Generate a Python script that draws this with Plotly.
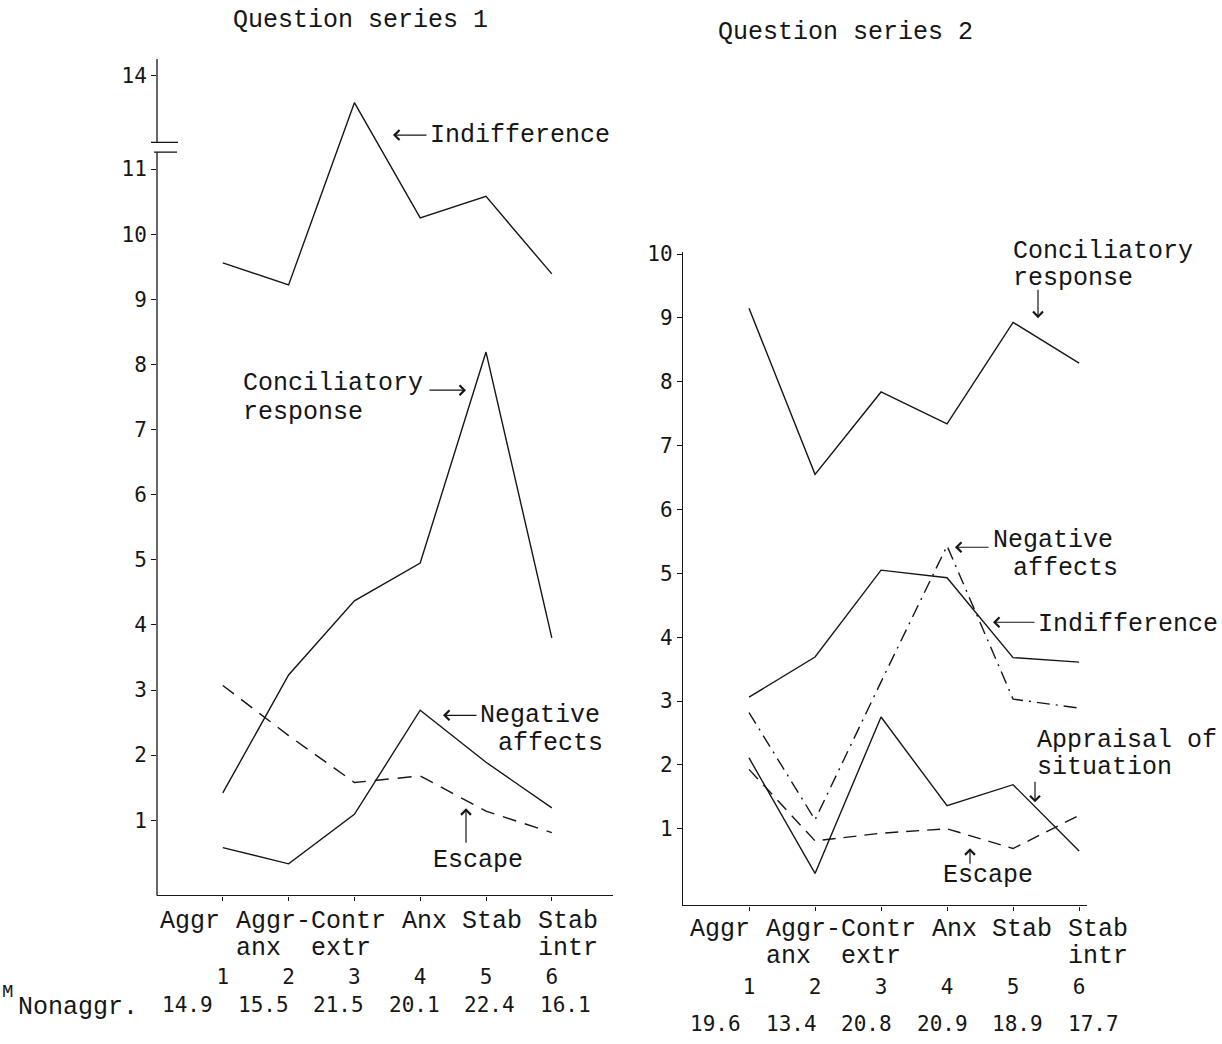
import plotly.graph_objects as go

# ---------------------------------------------------------------- data
x_positions = [1, 2, 3, 4, 5, 6]
category_top = ["Aggr", "Aggr-", "Contr", "Anx", "Stab", "Stab"]
category_bottom = ["", "anx", "extr", "", "", "intr"]
category_numbers = ["1", "2", "3", "4", "5", "6"]

nonaggr_mean_1 = [14.9, 15.5, 21.5, 20.1, 22.4, 16.1]
nonaggr_mean_2 = [19.6, 13.4, 20.8, 20.9, 18.9, 17.7]

# Question series 1
indifference_1 = [9.56, 9.22, 13.58, 10.25, 10.58, 9.39]
conciliatory_1 = [1.42, 3.23, 4.37, 4.95, 8.19, 3.80]
negative_affects_1 = [0.58, 0.33, 1.09, 2.69, 1.89, 1.19]
escape_1 = [3.07, 2.30, 1.58, 1.68, 1.14, 0.81]

# Question series 2
conciliatory_2 = [9.15, 6.55, 7.84, 7.34, 8.93, 8.29]
indifference_2 = [3.06, 3.69, 5.05, 4.93, 3.68, 3.61]
negative_affects_2 = [2.82, 1.14, 3.30, 5.43, 3.03, 2.89]
appraisal_2 = [2.11, 0.30, 2.75, 1.36, 1.69, 0.65]
escape_2 = [1.93, 0.81, 0.93, 1.00, 0.69, 1.21]

y_ticks_1 = [1, 2, 3, 4, 5, 6, 7, 8, 9, 10, 11, 14]
y_ticks_2 = [1, 2, 3, 4, 5, 6, 7, 8, 9, 10]

# ---------------------------------------------------------------- style
W, H = 1222, 1044
PAGE_TOP = 8        # vertical offset of the figure on the page
PAGE_SCALE = 0.99   # vertical page scale
INK = "#161616"
TYPE_FONT = "Liberation Mono"
NUM_FONT = "DejaVu Sans Mono"
LINE_W = 1.4
PITCH = 15.1  # typewriter character pitch in px

# The left value axis is broken between 11 and 14.
LOWER_TOP = 11.26
UPPER_BOTTOM = 12.97
BREAK_GAP = 0.15


def broken(v):
    return v if v <= LOWER_TOP else v - (UPPER_BOTTOM - LOWER_TOP) + BREAK_GAP


def fx(px):
    return px / W


def fy(py):
    return 1 - (py - PAGE_TOP) / (PAGE_SCALE * H)


# panel frames in page px: (left, right, top, bottom) and axis ranges
P1 = dict(l=157, r=613, t=57, b=893, xr=[0, 6.93], yr=[-0.154, 12.69])
P2 = dict(l=683, r=1087, t=250, b=903, xr=[0, 6.12], yr=[-0.2, 10.03])


def y_to_px(p, v):
    lo, hi = p["yr"]
    return p["b"] - (v - lo) / (hi - lo) * (p["b"] - p["t"])


fig = go.Figure()


def add_line(xaxis, yaxis, ys, dash="solid"):
    fig.add_trace(go.Scatter(
        x=x_positions, y=ys, mode="lines", xaxis=xaxis, yaxis=yaxis,
        line=dict(color=INK, width=LINE_W, dash=dash),
        hoverinfo="skip", showlegend=False))


add_line("x", "y", [broken(v) for v in indifference_1])
add_line("x", "y", conciliatory_1)
add_line("x", "y", negative_affects_1)
add_line("x", "y", escape_1, dash="14px,9px")

add_line("x2", "y2", conciliatory_2)
add_line("x2", "y2", indifference_2)
add_line("x2", "y2", negative_affects_2, dash="13px,6px,2px,6px")
add_line("x2", "y2", appraisal_2)
add_line("x2", "y2", escape_2, dash="13px,8px")

tick_font = dict(family=NUM_FONT, size=21, color=INK)


def x_axis(p, anchor):
    return dict(domain=[fx(p["l"]), fx(p["r"])], range=p["xr"], anchor=anchor,
                tickvals=x_positions, ticktext=category_numbers,
                ticks="outside", ticklen=4, tickwidth=1.2, tickcolor=INK,
                showline=True, linecolor=INK, linewidth=1.3,
                showgrid=False, zeroline=False, tickfont=tick_font,
                ticklabelstandoff=58, fixedrange=True)


def y_axis(p, anchor, vals, text, showline):
    return dict(domain=[fy(p["b"]), fy(p["t"])], range=p["yr"], anchor=anchor,
                tickvals=vals, ticktext=text, ticks="outside", ticklen=5,
                tickwidth=1.2, tickcolor=INK, showline=showline,
                linecolor=INK, linewidth=1.3, showgrid=False, zeroline=False,
                tickfont=tick_font, fixedrange=True)


fig.update_layout(
    width=W, height=H, autosize=False,
    margin=dict(l=0, r=0, t=0, b=0),
    paper_bgcolor="white", plot_bgcolor="white",
    xaxis=x_axis(P1, "y"),
    yaxis=y_axis(P1, "x", [broken(v) for v in y_ticks_1],
                 [str(v) for v in y_ticks_1], False),
    xaxis2=x_axis(P2, "y2"),
    yaxis2=y_axis(P2, "x2", y_ticks_2, [str(v) for v in y_ticks_2], True),
)

# left value axis drawn in two pieces with break marks
shapes = []
lower_px = y_to_px(P1, LOWER_TOP)
upper_px = y_to_px(P1, LOWER_TOP + BREAK_GAP)
for y0, y1 in [(P1["b"], lower_px), (upper_px, P1["t"])]:
    shapes.append(dict(type="line", xref="paper", yref="paper",
                       x0=fx(P1["l"]), x1=fx(P1["l"]), y0=fy(y0), y1=fy(y1),
                       line=dict(color=INK, width=1.3)))
for py, a, b in [(upper_px, 151, 178), (lower_px, 154, 177)]:
    shapes.append(dict(type="line", xref="paper", yref="paper",
                       x0=fx(a), x1=fx(b), y0=fy(py), y1=fy(py),
                       line=dict(color=INK, width=1.3)))
fig.update_layout(shapes=shapes)

annotations = []


def text(s, left, cy, size=25, family=TYPE_FONT):
    annotations.append(dict(text=s, xref="paper", yref="paper",
                            x=fx(left), y=fy(cy), xanchor="left",
                            yanchor="middle", showarrow=False,
                            font=dict(family=family, size=size, color=INK)))


def arrow(hx, hy, tx, ty):
    annotations.append(dict(text="", xref="paper", yref="paper",
                            x=fx(hx), y=fy(hy), ax=tx - hx, ay=ty - hy,
                            axref="pixel", ayref="pixel", showarrow=True,
                            arrowhead=4, arrowsize=1.6, arrowwidth=1.2,
                            arrowcolor=INK, standoff=0, startstandoff=0))


# category names typed under each axis
label_cols = [0, 5, 10, 16, 20, 25]
value_cols = [0, 5, 10, 15, 20, 25]
for start, row1, row2, vstart, vrow, means in [
        (158, 919, 946, 160, 1003, nonaggr_mean_1),
        (688, 927, 954, 688, 1022, nonaggr_mean_2)]:
    for col, top, bottom in zip(label_cols, category_top, category_bottom):
        text(top, start + col * PITCH, row1)
        if bottom:
            text(bottom, start + col * PITCH, row2)
    for col, m in zip(value_cols, means):
        text(f"{m:.1f}", vstart + col * PITCH, vrow, size=21, family=NUM_FONT)

text("M", 0, 990, size=19)
text("Nonaggr.", 16, 1005)

# series 1 labels
text("Question series 1", 231, 18)
text("Indifference", 428, 133)
arrow(393, 133, 428, 133)
text("Conciliatory", 241, 381)
text("response", 241, 410)
arrow(466, 388, 428, 388)
text("Negative", 478, 713)
text("affects", 496, 741)
arrow(443, 713, 478, 713)
text("Escape", 431, 858)
arrow(466, 806, 466, 842)

# series 2 labels
text("Question series 2", 716, 30)
text("Conciliatory", 1011, 249)
text("response", 1011, 276)
arrow(1038, 316, 1038, 286)
text("Negative", 991, 538)
text("affects", 1011, 566)
arrow(955, 545, 990, 545)
text("Indifference", 1036, 622)
arrow(993, 620, 1036, 620)
text("Appraisal of", 1035, 738)
text("situation", 1035, 765)
arrow(1035, 800, 1035, 778)
text("Escape", 941, 873)
arrow(970, 846, 970, 863)

fig.update_layout(annotations=annotations)

fig.write_html("out.html")
